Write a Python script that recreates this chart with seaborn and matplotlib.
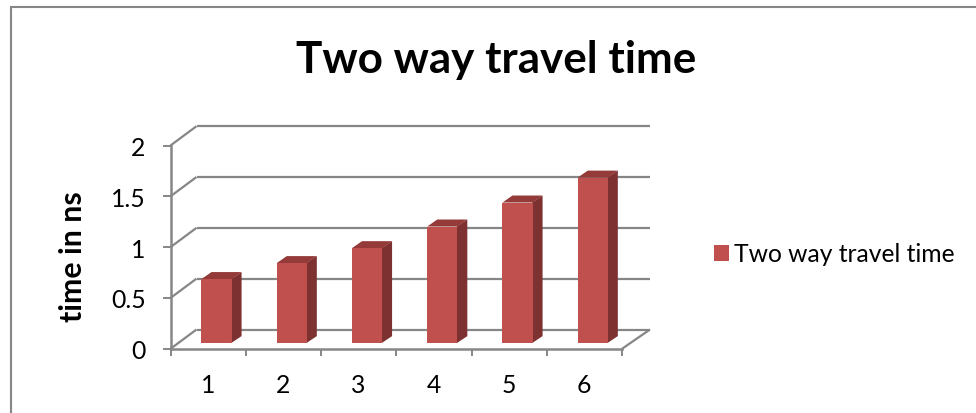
import matplotlib
matplotlib.use("Agg")
import matplotlib.pyplot as plt
from matplotlib.lines import Line2D
from matplotlib.patches import Polygon, Patch
from matplotlib.transforms import Affine2D
import pandas as pd
import seaborn as sns

categories = ["1", "2", "3", "4", "5", "6"]
travel_time = [0.63, 0.787, 0.934, 1.147, 1.383, 1.628]
y_ticks = [0, 0.5, 1, 1.5, 2]
y_tick_labels = ["0", "0.5", "1", "1.5", "2"]
series_name = "Two way travel time"

FACE = "#C0504D"
SIDE = "#7D3130"
TOP = "#943B39"
AXIS = "#868686"

sns.set_theme(style="white")
plt.rcParams["font.family"] = ["Lato", "DejaVu Sans"]

W, H = 976, 414
fig = plt.figure(figsize=(W / 100, H / 100), dpi=100, facecolor="white")

# Front plane of the pseudo-3D box, in pixels
left, right, base, top = 170.5, 622.0, 349.8, 146.5
ax = fig.add_axes([left / W, 1 - base / H, (right - left) / W, (base - top) / H])
ax.patch.set_alpha(0)

df = pd.DataFrame({"category": categories, "time": travel_time})
sns.barplot(data=df, x="category", y="time", color=FACE, saturation=1, width=0.4,
            ax=ax, zorder=5, edgecolor="none", linewidth=0)

ax.set_xlim(-0.5, 5.5)
ax.set_ylim(0, 2)
ax.set_xlabel("")
ax.set_ylabel("")

# Offsets for the back wall and for the bars sitting inside the box
back = ax.transData + Affine2D().translate(26, 19.3)
inner = ax.transData + Affine2D().translate(8.4, 5.7)

px_x = (right - left) / len(categories)
px_y = (base - top) / 2
depth_x, depth_y = 10 / px_x, 7 / px_y

# Back wall gridlines and the diagonals joining them to the front axis
grid_kw = dict(color=AXIS, lw=1.6, clip_on=False, zorder=1, solid_capstyle="butt")
for v in y_ticks:
    ax.plot([-0.5, 5.5 + 2 / px_x], [v, v], transform=back, **grid_kw)
    ax.add_line(Line2D([left, left + 26], [H - (base - v * px_y), H - (base - v * px_y) + 19.3],
                       transform=None, **grid_kw))
ax.add_line(Line2D([right, right + 28], [H - base, H - base + 19.3], transform=None, **grid_kw))

# Extrude each bar: shift the front face, then add its side and top faces
for bar in ax.patches:
    bar.set_transform(inner)
    x0, w, h = bar.get_x(), bar.get_width(), bar.get_height()
    x1 = x0 + w
    overlap = 0.5 / px_x
    ax.add_patch(Polygon([(x1 - overlap, 0), (x1 - overlap, h), (x1 + depth_x, h + depth_y), (x1 + depth_x, depth_y)],
                         closed=True, fc=SIDE, ec="none", transform=inner, zorder=4, clip_on=False))
    ax.add_patch(Polygon([(x0, h), (x1, h), (x1 + depth_x, h + depth_y), (x0 + depth_x, h + depth_y)],
                         closed=True, fc=TOP, ec="none", transform=inner, zorder=4, clip_on=False))

# Front axes
for name in ("top", "right"):
    ax.spines[name].set_visible(False)
for name in ("left", "bottom"):
    ax.spines[name].set_color(AXIS)
    ax.spines[name].set_linewidth(1.8)
    ax.spines[name].set_zorder(6)

ax.set_yticks(y_ticks, y_tick_labels)
ax.set_xticks([i - 0.5 for i in range(len(categories) + 1)], [""] * (len(categories) + 1))
ax.set_xticks(range(len(categories)), categories, minor=True)
ax.tick_params(axis="y", which="major", left=True, length=6, width=1.4, color=AXIS,
               labelsize=17.8, labelcolor="black", pad=12)
ax.tick_params(axis="x", which="major", bottom=True, length=5, width=1.4, color=AXIS)
ax.tick_params(axis="x", which="minor", bottom=False, length=0, labelsize=17.8,
               labelcolor="black", pad=17.5)

# Outer chart frame, open on the right and bottom
fig.add_artist(Line2D([11 / W, 11 / W, 1], [0, 1 - 7.8 / H, 1 - 7.8 / H], color=AXIS, lw=1.5,
                      solid_joinstyle="miter"))

fig.text(496 / W, 1 - 60 / H, series_name, ha="center", va="center",
         fontsize=31.7, fontweight="bold", color="black")
fig.text(73 / W, 1 - 257 / H, "time in ns", rotation=90, ha="center", va="center",
         fontsize=21.8, fontweight="bold", color="black")

handle = Patch(facecolor=FACE, edgecolor="none")
fig.legend(handles=[handle], labels=[series_name], loc="center left",
           bbox_to_anchor=(714 / W, 1 - 255 / H), frameon=False, fontsize=17.7,
           handlelength=0.61, handleheight=0.61, handletextpad=0.2,
           borderpad=0, borderaxespad=0, labelcolor="black")

fig.savefig("out.png", dpi=100)
